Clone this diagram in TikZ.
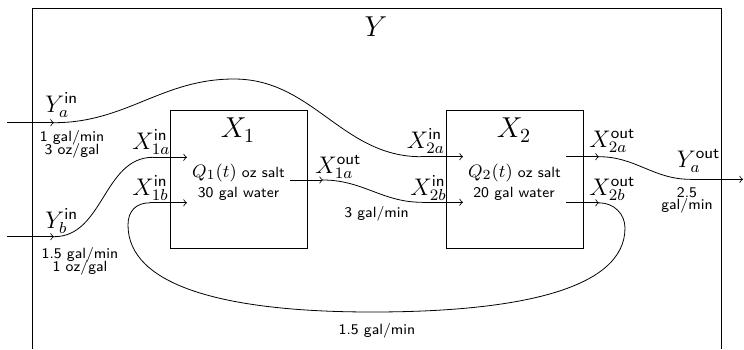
\documentclass[tikz,border=0pt]{standalone}
\begin{document}
\begin{tikzpicture}[x=0.5pt,y=-0.5pt,
  flow/.style={->},
  pipe/.style={},
  tank/.style={draw, minimum width=68.6pt, minimum height=68.8pt, inner sep=0pt},
  lab/.style={inner sep=0pt, anchor=base west, font=\fontsize{12}{14}\selectfont},
  big/.style={inner sep=0pt, font=\fontsize{14}{17}\selectfont},
  note/.style={inner sep=0pt, anchor=base, font=\fontsize{7.4}{9}\selectfont\sffamily}]
\useasboundingbox (0,0) rectangle (744,349);
% outer system Y
\coordinate (ybl) at (32,349); \coordinate (ytl) at (32,8);
\coordinate (ytr) at (721,8);  \coordinate (ybr) at (721,349);
\draw (ybl) -- (ytl) -- (ytr) -- (ybr);
\node[big] (Ylab) at (376,27) {$Y$};
% tanks
\node[tank] (T1) at (238.5,179.5) {};
\node[tank] (T2) at (514.5,179.5) {};
\node[big] (L1) at (238,130) {$X_1$};
\node[big] (L2) at (514,130) {$X_2$};
\node[note] (q1) at (238.5,177) {{\fontsize{9.4}{11}\selectfont$Q_1(t)$} oz salt};
\node[note] (w1) at (238.5,197) {30 gal water};
\node[note] (q2) at (514.5,177) {{\fontsize{9.4}{11}\selectfont$Q_2(t)$} oz salt};
\node[note] (w2) at (514,197) {20 gal water};
% coordinates of the pipes
\coordinate (ya0) at (7,122.7);   \coordinate (ya1) at (54,122.7);
\coordinate (yb0) at (7,236.7);   \coordinate (yb1) at (54,236.7);
\coordinate (peak) at (234,79);
\coordinate (x1a0) at (153,157.3); \coordinate (x1a1) at (187,157.3);
\coordinate (x1b0) at (150,202.8); \coordinate (x1b1) at (187,202.8);
\coordinate (x1o0) at (290,180);   \coordinate (x1o1) at (323,180);
\coordinate (x2a0) at (421,156.7); \coordinate (x2a1) at (463,156.7);
\coordinate (x2b0) at (422,202.3); \coordinate (x2b1) at (463,202.3);
\coordinate (x2ao0) at (566,156.7); \coordinate (x2ao1) at (599,156.7);
\coordinate (x2bo0) at (566,202.8); \coordinate (x2bo1) at (599,202.8);
\coordinate (yo0) at (690,179.3);  \coordinate (yo1) at (743,179.3);
\coordinate (lr) at (625,228);     \coordinate (lb) at (372,312);
\coordinate (ll) at (128,225);
% arrows
\draw[flow] (ya0) -- (ya1);
\draw[flow] (yb0) -- (yb1);
\draw[flow] (x1a0) -- (x1a1);
\draw[flow] (x1b0) -- (x1b1);
\draw[flow] (x1o0) -- (x1o1);
\draw[flow] (x2a0) -- (x2a1);
\draw[flow] (x2b0) -- (x2b1);
\draw[flow] (x2ao0) -- (x2ao1);
\draw[flow] (x2bo0) -- (x2bo1);
\draw[flow] (yo0) -- (yo1);
% pipes
\draw[pipe] (ya1) to[out=0,in=180] (peak) to[out=0,in=180] (x2a0);
\draw[pipe] (yb1) to[out=0,in=180] (x1a0);
\draw[pipe] (x1o1) to[out=0,in=180] (x2b0);
\draw[pipe] (x2ao1) to[out=0,in=180] (yo0);
\draw[pipe] (x2bo1) .. controls (614,202.8) and (625,214) .. (lr)
  .. controls (625,288) and (522,312) .. (lb)
  .. controls (222,312) and (128,285) .. (ll)
  .. controls (128,211) and (136,202.8) .. (x1b0);
% labels
\node[lab] (lya) at (45,112) {$Y^{\mathsf{in}}_a$};
\node[lab] (lyb) at (45,228) {$Y^{\mathsf{in}}_b$};
\node[lab] (lx1a) at (132,149) {$X^{\mathsf{in}}_{1a}$};
\node[lab] (lx1b) at (132,195) {$X^{\mathsf{in}}_{1b}$};
\node[lab] (lx1o) at (315,173) {$X^{\mathsf{out}}_{1a}$};
\node[lab] (lx2a) at (406.5,148) {$X^{\mathsf{in}}_{2a}$};
\node[lab] (lx2b) at (410,195) {$X^{\mathsf{in}}_{2b}$};
\node[lab] (lx2ao) at (589,147) {$X^{\mathsf{out}}_{2a}$};
\node[lab] (lx2bo) at (589,195) {$X^{\mathsf{out}}_{2b}$};
\node[lab] (lyo) at (676.5,167) {$Y^{\mathsf{out}}_a$};
% rates
\node[note] (ra1) at (72,141.5) {1 gal/min};
\node[note] (ra2) at (72,154.5) {3 oz/gal};
\node[note] (rb1) at (80,258) {1.5 gal/min};
\node[note] (rb2) at (80,271.5) {1 oz/gal};
\node[note] (r12) at (376.5,217) {3 gal/min};
\node[note] (rloop) at (377,334) {1.5 gal/min};
\node[note] (ro1) at (687,197.5) {2.5};
\node[note] (ro2) at (687,209.5) {gal/min};
\end{tikzpicture}
\end{document}
